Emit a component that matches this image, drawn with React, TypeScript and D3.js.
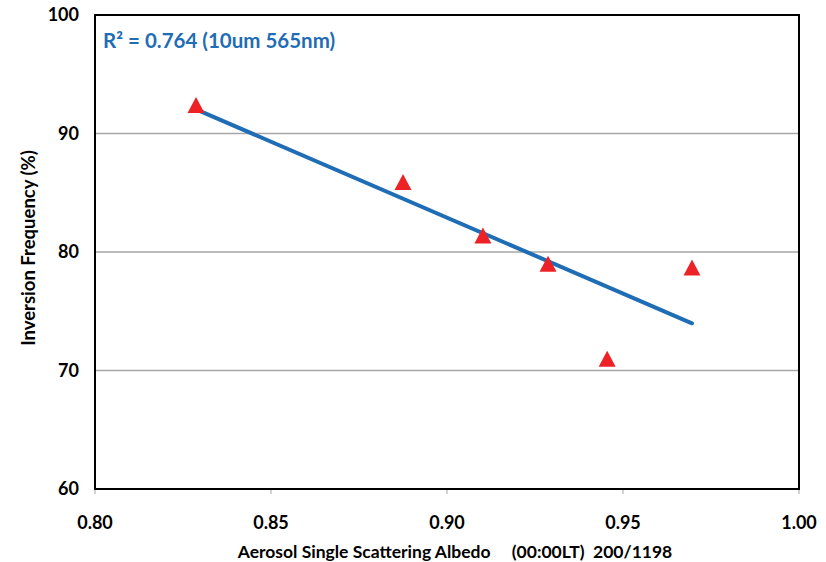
import React from "react";
import * as d3 from "d3";

// Aerosol single scattering albedo vs. inversion frequency
const albedo = [0.8287, 0.8875, 0.9102, 0.9287, 0.9455, 0.9696];
const inversionFreq = [92.4, 85.9, 81.4, 79.0, 71.0, 78.7];
const xTicks = [0.8, 0.85, 0.9, 0.95, 1.0];
const yTicks = [60, 70, 80, 90, 100];
const r2Label = "R² = 0.764 (10um 565nm)";

const W = 826;
const H = 562;
const M = { left: 95, right: 799, top: 15, bottom: 489 };
const FONT = "Lato, 'Open Sans', sans-serif";
const TRI_W = 17;
const TRI_H = 16;

export default function App() {
  const x = d3.scaleLinear().domain([0.8, 1.0]).range([M.left, M.right]);
  const y = d3.scaleLinear().domain([60, 100]).range([M.bottom, M.top]);

  // least-squares fit through the points
  const mx = d3.mean(albedo)!;
  const my = d3.mean(inversionFreq)!;
  let sxy = 0;
  let sxx = 0;
  albedo.forEach((v, i) => {
    sxy += (v - mx) * (inversionFreq[i] - my);
    sxx += (v - mx) * (v - mx);
  });
  const slope = sxy / sxx;
  const intercept = my - slope * mx;
  const x0 = d3.min(albedo)!;
  const x1 = d3.max(albedo)!;
  const fitLine = d3.line<number>()
    .x((d) => x(d))
    .y((d) => y(intercept + slope * d))([x0, x1]);

  // triangle marker centred on the point
  const tp = d3.path();
  tp.moveTo(0, -TRI_H / 2);
  tp.lineTo(TRI_W / 2, TRI_H / 2);
  tp.lineTo(-TRI_W / 2, TRI_H / 2);
  tp.closePath();
  const tri = tp.toString();

  return (
    <svg width={W} height={H} style={{ position: "absolute", left: 0, top: 0, background: "#fff" }}>
      {/* gridlines */}
      {yTicks.filter((t) => t > 60 && t < 100).map((t) => (
        <line key={t} x1={M.left} x2={M.right} y1={y(t)} y2={y(t)} stroke="#A6A6A6" strokeWidth={1.5} />
      ))}
      {/* x tick marks */}
      {xTicks.map((t) => (
        <line key={t} x1={x(t)} x2={x(t)} y1={M.bottom} y2={M.bottom + 5} stroke="#A6A6A6" strokeWidth={1} />
      ))}
      {/* plot frame */}
      <rect x={M.left} y={M.top} width={M.right - M.left} height={M.bottom - M.top} fill="none" stroke="#000" strokeWidth={2} />
      {/* y tick labels */}
      {yTicks.map((t) => (
        <text key={t} x={M.left - 16} y={y(t)} dy="0.35em" textAnchor="end" fontFamily={FONT} fontWeight="bold" fontSize={18} fill="#000">
          {t}
        </text>
      ))}
      {/* x tick labels */}
      {xTicks.map((t) => (
        <text key={t} x={x(t)} y={M.bottom + 34} dy="0.35em" textAnchor="middle" fontFamily={FONT} fontWeight="bold" fontSize={18} fill="#000">
          {t.toFixed(2)}
        </text>
      ))}
      {/* axis titles */}
      <text x={455} y={558} textAnchor="middle" fontFamily={FONT} fontWeight="bold" fontSize={17.5} fill="#000" style={{ whiteSpace: "pre" }}>
        {"Aerosol Single Scattering Albedo     (00:00LT)  200/1198"}
      </text>
      <text transform={`translate(35,${248}) rotate(-90)`} textAnchor="middle" fontFamily={FONT} fontWeight="bold" fontSize={18.5} fill="#000">
        Inversion Frequency (%)
      </text>
      {/* trend line */}
      <path d={fitLine!} fill="none" stroke="#1F6DB5" strokeWidth={4} strokeLinecap="round" />
      {/* points */}
      {albedo.map((v, i) => (
        <path key={i} d={tri} transform={`translate(${x(v)},${y(inversionFreq[i])})`} fill="#EC2227" />
      ))}
      {/* fit annotation */}
      <text x={103} y={48} fontFamily={FONT} fontWeight="bold" fontSize={20.5} fill="#1F6DB5">
        {r2Label}
      </text>
    </svg>
  );
}
